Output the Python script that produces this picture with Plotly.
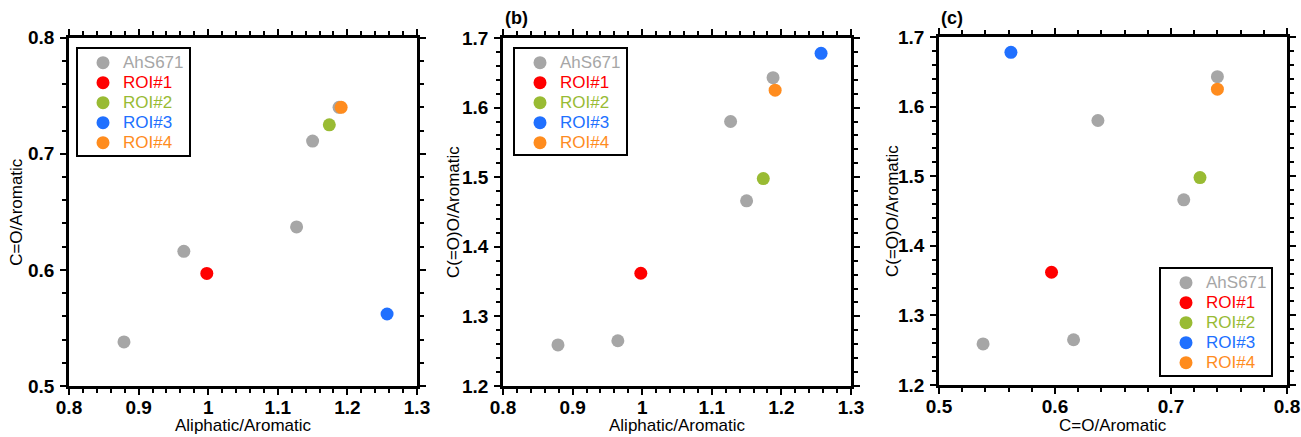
import plotly.graph_objects as go

# Ratio values per sample
series_names = ["AhS671", "ROI#1", "ROI#2", "ROI#3", "ROI#4"]
series_colors = ["#a6a6a6", "#ff0000", "#99bb33", "#2070ff", "#ff8c1e"]

aliphatic_aromatic = [
    [0.879, 0.965, 1.127, 1.150, 1.188],  # AhS671
    [0.998],                              # ROI#1
    [1.174],                              # ROI#2
    [1.257],                              # ROI#3
    [1.191],                              # ROI#4
]
co_aromatic = [
    [0.538, 0.616, 0.637, 0.711, 0.740],
    [0.597],
    [0.725],
    [0.562],
    [0.740],
]
cooh_aromatic = [
    [1.259, 1.265, 1.580, 1.466, 1.643],
    [1.362],
    [1.498],
    [1.678],
    [1.625],
]

W, H = 1301, 437
FONT = "Arial, Liberation Sans, sans-serif"
MARKER = 13

# plot-area pixel boxes: (left, right, top, bottom)
boxes = [(69, 417, 37.7, 386), (503, 851, 38, 386), (939, 1287, 37, 385)]
panels = [
    (aliphatic_aromatic, co_aromatic, [0.8, 1.3], [0.5, 0.8], "Aliphatic/Aromatic", "C=O/Aromatic", None),
    (aliphatic_aromatic, cooh_aromatic, [0.8, 1.3], [1.2, 1.7], "Aliphatic/Aromatic", "C(=O)O/Aromatic", "(b)"),
    (co_aromatic, cooh_aromatic, [0.5, 0.8], [1.2, 1.7], "C=O/Aromatic", "C(=O)O/Aromatic", "(c)"),
]
# legend boxes in pixels: (left, top, right, bottom)
legend_boxes = [(77, 48, 190, 156), (514, 48, 627, 155), (1160, 268, 1272, 376)]
ytitle_x = [17, 453, 892]


def px(x):
    return x / W


def py(y):
    return 1 - y / H


fig = go.Figure()
annotations = []
shapes = []
layout = {}

for p, (xs, ys, xr, yr, xt, yt, tag) in enumerate(panels):
    k = "" if p == 0 else str(p + 1)
    for name, color, xv, yv in zip(series_names, series_colors, xs, ys):
        fig.add_trace(go.Scatter(
            x=xv, y=yv, mode="markers", name=name, showlegend=False,
            marker=dict(color=color, size=MARKER, line=dict(width=0)),
            xaxis="x" + k, yaxis="y" + k,
        ))
    l, r, t, b = boxes[p]
    axis_common = dict(
        showline=True, linecolor="black", linewidth=2.5, mirror="allticks",
        ticks="outside", ticklen=6, tickwidth=2, tickcolor="black",
        showgrid=False, zeroline=False, dtick=0.1, automargin=False,
        tickfont=dict(family=FONT, size=19, color="black", weight="bold"),
        minor=dict(dtick=0.02, ticks="outside", ticklen=4, tickwidth=2, tickcolor="black", showgrid=False),
    )
    layout["xaxis" + k] = dict(axis_common, range=xr, tick0=xr[0], domain=[px(l), px(r)],
                               anchor="y" + k, ticklabelstandoff=-4)
    layout["yaxis" + k] = dict(axis_common, range=yr, tick0=yr[0], domain=[py(b), py(t)],
                               anchor="x" + k, ticklabelstandoff=2)

    # boxed legend: frame, colour dots and coloured labels
    bl, bt, br, bb = legend_boxes[p]
    shapes.append(dict(type="rect", xref="paper", yref="paper", layer="above",
                       x0=px(bl), x1=px(br), y0=py(bb), y1=py(bt),
                       line=dict(color="black", width=2), fillcolor="white"))
    for i, (name, color) in enumerate(zip(series_names, series_colors)):
        cy = bt + 14.7 + 20 * i
        cx = bl + 26
        shapes.append(dict(type="circle", xref="paper", yref="paper", layer="above",
                           x0=px(cx - MARKER / 2), x1=px(cx + MARKER / 2),
                           y0=py(cy + MARKER / 2), y1=py(cy - MARKER / 2),
                           line=dict(width=0), fillcolor=color))
        annotations.append(dict(text=name, x=px(bl + 44), y=py(cy), xref="paper", yref="paper",
                                showarrow=False, xanchor="left", yanchor="middle",
                                font=dict(family=FONT, size=17, color=color)))

    annotations.append(dict(text=xt, x=px((l + r) / 2), y=py(425), xref="paper", yref="paper",
                            showarrow=False, xanchor="center", yanchor="middle",
                            font=dict(family=FONT, size=17, color="black")))
    annotations.append(dict(text=yt, x=px(ytitle_x[p]), y=py((t + b) / 2), xref="paper", yref="paper",
                            showarrow=False, xanchor="center", yanchor="middle", textangle=-90,
                            font=dict(family=FONT, size=17, color="black")))
    if tag:
        annotations.append(dict(text=f"<b>{tag}</b>", x=px(l), y=py(18), xref="paper", yref="paper",
                                showarrow=False, xanchor="left", yanchor="middle",
                                font=dict(family=FONT, size=18, color="black")))

fig.update_layout(
    width=W, height=H, margin=dict(l=0, r=0, t=0, b=0, autoexpand=False),
    plot_bgcolor="white", paper_bgcolor="white", showlegend=False,
    annotations=annotations, shapes=shapes, **layout,
)

fig.write_html("out.html")
